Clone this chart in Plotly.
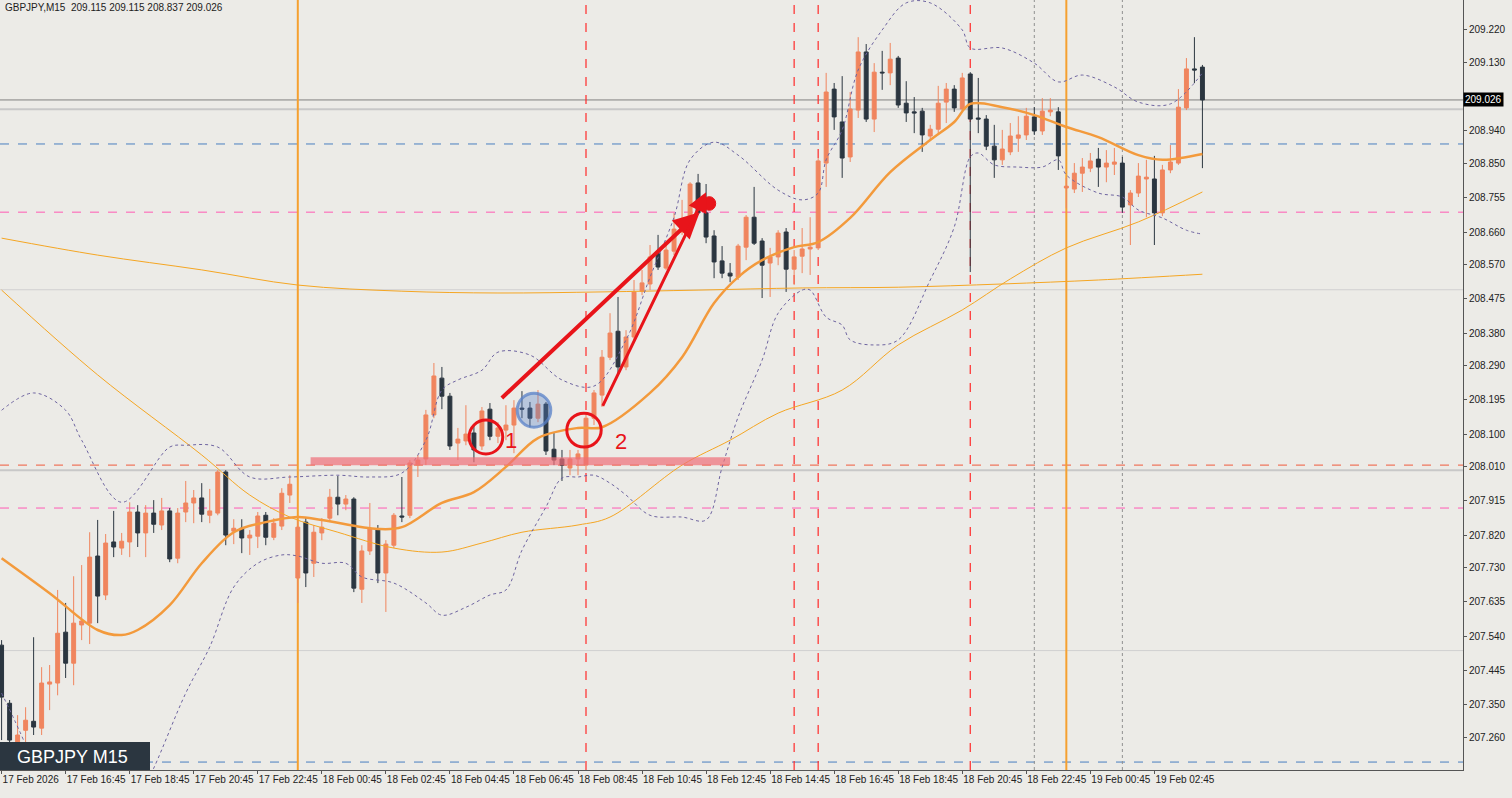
import plotly.graph_objects as go

# ---------- candle data (bar index 0 = 17 Feb 14:45, M15) ----------
opens = [207.515,207.354,207.246,207.279,207.304,207.285,207.407,207.410,207.551,207.465,
207.571,207.576,207.762,207.654,207.801,207.784,207.801,207.884,207.826,207.881,
207.848,207.887,207.756,207.884,207.909,207.923,207.875,207.881,207.995,207.831,
207.839,207.812,207.817,207.875,207.814,207.845,207.931,207.701,207.856,207.742,
207.826,207.867,207.925,207.906,207.920,207.670,207.776,207.837,207.715,207.792,
207.873,207.875,208.014,208.031,208.153,208.255,208.205,208.075,208.081,208.103,
208.067,208.169,208.094,208.111,208.125,208.172,208.172,208.144,208.183,208.058,
208.031,208.006,208.031,208.014,208.144,208.208,208.313,208.385,208.286,208.369,
208.496,208.516,208.602,208.560,208.607,208.660,208.665,208.796,208.713,208.649,
208.580,208.546,208.535,208.618,208.701,208.635,208.574,208.591,208.660,208.557,
208.593,208.613,208.616,208.851,209.056,208.965,208.868,208.998,209.159,208.973,
209.103,209.101,209.142,209.017,208.993,208.995,208.926,208.945,209.020,209.056,
209.001,209.098,208.976,208.973,208.898,208.860,208.882,208.920,208.929,208.979,
208.940,208.993,208.993,208.782,208.779,208.823,208.837,208.862,208.840,208.848,
208.851,208.735,208.768,208.807,208.807,208.713,208.832,208.851,209.004,209.112,
209.117]
highs = [207.529,207.363,207.321,207.343,207.537,207.454,207.460,207.668,207.632,207.706,
207.737,207.828,207.862,207.823,207.887,207.826,207.911,207.903,207.903,207.917,
207.923,207.895,207.895,207.970,207.945,207.964,207.948,208.000,208.000,207.864,
207.864,207.834,207.884,207.884,207.867,207.950,207.986,207.862,207.867,207.848,
207.867,207.948,207.984,207.931,207.925,207.792,207.909,207.848,207.806,207.881,
207.981,208.028,208.042,208.167,208.297,208.286,208.214,208.117,208.180,208.125,
208.175,208.186,208.133,208.180,208.194,208.219,208.189,208.222,208.189,208.103,
208.056,208.056,208.056,208.153,208.222,208.333,208.435,208.480,208.388,208.527,
208.555,208.624,208.652,208.624,208.713,208.749,208.798,208.821,208.793,208.665,
208.621,208.574,208.627,208.707,208.785,208.643,208.616,208.665,208.671,208.610,
208.671,208.701,208.865,209.101,209.073,209.092,209.048,209.200,209.181,209.128,
209.162,209.184,209.148,209.078,209.034,209.004,208.957,209.065,209.073,209.067,
209.101,209.103,209.087,208.984,208.957,208.943,208.962,208.981,209.004,209.006,
209.031,209.031,209.006,208.810,208.851,208.865,208.879,208.893,208.887,208.893,
208.868,208.776,208.851,208.860,208.871,208.846,208.901,209.056,209.142,209.200,
209.123]
lows = [207.252,207.196,207.196,207.238,207.266,207.266,207.335,207.376,207.424,207.404,
207.529,207.518,207.576,207.640,207.759,207.765,207.759,207.787,207.759,207.826,
207.834,207.745,207.742,207.856,207.853,207.856,207.853,207.875,207.792,207.795,
207.770,207.765,207.784,207.792,207.806,207.834,207.909,207.632,207.676,207.704,
207.806,207.856,207.875,207.889,207.662,207.632,207.765,207.687,207.607,207.784,
207.856,207.867,207.981,208.014,208.144,208.169,208.056,208.028,208.069,208.022,
208.056,208.083,208.075,208.083,208.047,208.144,208.119,208.133,208.042,208.014,
207.970,207.986,207.986,208.000,208.125,208.175,208.305,208.269,208.277,208.361,
208.485,208.499,208.555,208.555,208.596,208.652,208.660,208.707,208.629,208.532,
208.532,208.521,208.527,208.582,208.624,208.477,208.480,208.568,208.494,208.513,
208.546,208.541,208.610,208.785,208.943,208.810,208.854,208.976,208.965,208.937,
209.054,209.067,209.004,208.965,208.934,208.882,208.915,208.934,208.962,208.993,
208.993,208.549,208.934,208.887,208.810,208.846,208.873,208.882,208.915,208.929,
208.929,208.981,208.832,208.726,208.768,208.771,208.826,208.785,208.798,208.818,
208.713,208.624,208.757,208.701,208.624,208.704,208.823,208.846,208.998,209.073,
208.837]
closes = [207.371,207.252,207.266,207.307,207.288,207.410,207.413,207.548,207.465,207.576,
207.582,207.759,207.651,207.798,207.787,207.803,207.884,207.826,207.881,207.850,
207.887,207.754,207.881,207.909,207.923,207.878,207.887,207.995,207.820,207.839,
207.812,207.820,207.873,207.814,207.853,207.936,207.961,207.842,207.715,207.828,
207.842,207.925,207.906,207.920,207.673,207.776,207.837,207.715,207.795,207.875,
207.870,208.020,208.028,208.153,208.261,208.205,208.067,208.086,208.100,208.056,
208.164,208.094,208.117,208.125,208.172,208.169,208.144,208.183,208.053,208.028,
208.014,208.031,208.045,208.144,208.214,208.313,208.380,208.286,208.369,208.494,
208.519,208.591,208.563,208.610,208.668,208.685,208.793,208.713,208.646,208.577,
208.546,208.538,208.621,208.701,208.629,208.568,208.591,208.657,208.557,208.591,
208.613,208.618,208.857,209.048,208.979,208.865,209.001,209.159,208.973,209.103,
209.101,209.139,209.012,208.990,208.990,208.929,208.945,209.017,209.056,209.004,
209.087,208.973,208.973,208.898,208.860,208.890,208.926,208.929,208.981,208.940,
208.995,208.998,208.871,208.787,208.823,208.840,208.857,208.840,208.851,208.854,
208.729,208.768,208.815,208.812,208.713,208.832,208.854,209.006,209.112,209.109,
209.026]

# ---------- indicators (bar index, price) ----------
ma20_idx = [0,6,12,15,17,21,25,29,33,37,40,47,50,55,59,63,67,72,75,81,85,89,92,95,99,102,106,111,116,119,121,125,129,133,137,142,145,150]
ma20_val = [207.756,207.659,207.557,207.543,207.557,207.626,207.742,207.828,207.856,207.870,207.862,207.837,207.842,207.909,207.939,208.009,208.089,208.117,208.119,208.214,208.313,208.463,208.535,208.582,208.618,208.632,208.699,208.826,208.915,208.965,209.015,209.006,208.984,208.951,208.923,208.873,208.860,208.876]
ma100_idx = [0,12,25,31,36,42,49,55,60,65,72,76,85,91,97,105,112,120,126,133,142,150]
ma100_val = [208.499,208.264,208.042,207.931,207.870,207.828,207.784,207.773,207.798,207.828,207.848,207.870,208.014,208.083,208.158,208.222,208.347,208.444,208.530,208.616,208.688,208.771]
ma200_idx = [0,12,25,37,50,62,75,87,100,112,125,137,150]
ma200_val = [208.643,208.596,208.555,208.513,208.496,208.491,208.494,208.499,208.505,208.507,208.516,208.527,208.543]
bbu_idx = [0,4,8,10,15,21,23,27,31,36,42,46,50,53,55,57,60,62,66,70,74,78,81,84,86,89,92,97,100,102,103,105,107,110,113,116,120,121,125,129,132,135,139,142,146,150]
bbu_val = [208.166,208.214,208.166,208.083,207.911,208.064,208.069,208.064,207.981,207.981,207.986,207.981,207.992,208.083,208.222,208.250,208.277,208.327,208.319,208.250,208.233,208.361,208.535,208.701,208.860,208.909,208.873,208.776,208.749,208.768,208.860,208.943,209.109,209.220,209.295,209.295,209.220,209.170,209.170,209.128,209.076,209.095,209.062,209.020,209.015,209.101]
bbl_idx = [0,3,5,10,17,19,23,26,29,32,35,37,40,43,45,49,53,55,58,61,63,65,68,70,72,74,76,78,81,85,88,90,92,95,97,100,101,103,105,106,109,112,116,119,121,122,124,127,130,132,133,137,140,142,145,148,150]
bbl_val = [207.382,207.238,207.113,207.085,207.085,207.174,207.382,207.510,207.676,207.742,207.765,207.762,207.742,207.742,207.704,207.687,207.632,207.598,207.620,207.654,207.668,207.778,207.898,207.978,207.981,207.986,207.964,207.931,207.875,207.870,207.862,208.008,208.147,208.305,208.435,208.499,208.499,208.424,208.402,208.361,208.347,208.361,208.527,208.674,208.868,208.879,208.846,208.840,208.840,208.860,208.818,208.768,208.757,208.721,208.699,208.665,208.654]

# ---------- axes text ----------
price_ticks = [209.220,209.130,208.940,208.850,208.755,208.660,208.570,208.475,208.380,208.290,208.195,208.100,208.010,207.915,207.820,207.730,207.635,207.540,207.445,207.350,207.260,207.165]
time_idx = [0,8,16,24,32,40,48,56,64,72,80,88,96,104,112,120,128,136,144]
time_labels = ["17 Feb 2026","17 Feb 16:45","17 Feb 18:45","17 Feb 20:45","17 Feb 22:45","18 Feb 00:45","18 Feb 02:45","18 Feb 04:45","18 Feb 06:45","18 Feb 08:45","18 Feb 10:45","18 Feb 12:45","18 Feb 14:45","18 Feb 16:45","18 Feb 18:45","18 Feb 20:45","18 Feb 22:45","19 Feb 00:45","19 Feb 02:45"]
current_price = 209.026
hlines = [(209.00,"#c8c8c8","solid",2),(208.50,"#d0d0d0","solid",1),(208.00,"#c8c8c8","solid",2),(207.50,"#d0d0d0","solid",1),
          (208.904,"#4a7fc0","dash",1),(208.715,"#ff5ab4","dash",1),(208.014,"#f05a3c","dash",1),(207.895,"#ff5ab4","dash",1),(207.191,"#4a7fc0","dash",1),
          (current_price,"#808080","solid",1)]
orange_vlines = [37,133]
red_vlines = [73,99,102,121]
grey_vlines = [129,140]

bars = list(range(len(closes)))
fig = go.Figure()
font = "Liberation Sans"
fig.add_trace(go.Scatter(x=ma200_idx, y=ma200_val, mode="lines", line=dict(color="#f5a623", width=1, shape="spline"), hoverinfo="skip"))
fig.add_trace(go.Scatter(x=ma100_idx, y=ma100_val, mode="lines", line=dict(color="#f5a623", width=1, shape="spline"), hoverinfo="skip"))
fig.add_trace(go.Scatter(x=bbu_idx, y=bbu_val, mode="lines", line=dict(color="#6e64a0", width=1, dash="dot", shape="spline"), hoverinfo="skip"))
fig.add_trace(go.Scatter(x=bbl_idx, y=bbl_val, mode="lines", line=dict(color="#6e64a0", width=1, dash="dot", shape="spline"), hoverinfo="skip"))
fig.add_trace(go.Scatter(x=ma20_idx, y=ma20_val, mode="lines", line=dict(color="#f39a3c", width=2.5, shape="spline"), hoverinfo="skip"))
fig.add_trace(go.Candlestick(x=bars, open=opens, high=highs, low=lows, close=closes,
    increasing=dict(line=dict(color="#f0855e", width=1), fillcolor="#f0855e"),
    decreasing=dict(line=dict(color="#2b3640", width=1), fillcolor="#2b3640"),
    whiskerwidth=0))

shapes = []
for v, c, d, w in hlines:
    shapes.append(dict(type="line", xref="paper", x0=0, x1=1, y0=v, y1=v, line=dict(color=c, dash=d, width=w), layer="below"))
for v in orange_vlines:
    shapes.append(dict(type="line", yref="paper", y0=0, y1=1, x0=v, x1=v, line=dict(color="#f5a030", width=2), layer="below"))
for v in red_vlines:
    shapes.append(dict(type="line", yref="paper", y0=0, y1=1, x0=v, x1=v, line=dict(color="#ff2a2a", width=1.2, dash="dash"), layer="below"))
for v in grey_vlines:
    shapes.append(dict(type="line", yref="paper", y0=0, y1=1, x0=v, x1=v, line=dict(color="#909090", width=1, dash="dot"), layer="below"))
# hand drawn marks
shapes.append(dict(type="line", x0=38.6, x1=91, y0=208.025, y1=208.025, line=dict(color="rgba(240,110,120,0.7)", width=8)))
shapes.append(dict(type="circle", x0=58.4, x1=62.6, y0=208.045, y1=208.139, line=dict(color="#e8141a", width=3)))
shapes.append(dict(type="circle", x0=70.6, x1=74.9, y0=208.064, y1=208.158, line=dict(color="#e8141a", width=3)))
shapes.append(dict(type="circle", x0=64.4, x1=68.6, y0=208.119, y1=208.213, line=dict(color="rgba(90,130,200,0.75)", width=3), fillcolor="rgba(90,130,200,0.35)"))
shapes.append(dict(type="circle", x0=87.6, x1=89.2, y0=208.720, y1=208.758, line=dict(color="#e8141a", width=1), fillcolor="#e8141a"))
shapes.append(dict(type="rect", xref="paper", yref="paper", x0=0, x1=150/1463, y0=0, y1=28/770, fillcolor="#2b3640", line=dict(width=0)))

ann = [
    dict(x=87.2, y=208.715, ax=62.3, ay=208.196, xref="x", yref="y", axref="x", ayref="y", showarrow=True, arrowhead=2, arrowsize=1.3, arrowwidth=4, arrowcolor="#e8141a", text=""),
    dict(x=88.0, y=208.770, ax=75.0, ay=208.174, xref="x", yref="y", axref="x", ayref="y", showarrow=True, arrowhead=2, arrowsize=1.3, arrowwidth=3, arrowcolor="#e8141a", text=""),
    dict(x=63.6, y=208.083, text="1", showarrow=False, font=dict(family=font, size=22, color="#e8141a")),
    dict(x=77.4, y=208.080, text="2", showarrow=False, font=dict(family=font, size=22, color="#e8141a")),
    dict(xref="paper", yref="paper", x=0.002, y=1, xanchor="left", yanchor="top", showarrow=False,
         text="GBPJPY,M15  209.115 209.115 208.837 209.026", font=dict(family=font, size=10, color="#222")),
    dict(xref="paper", yref="paper", x=0.01, y=0.017, xanchor="left", yanchor="middle", showarrow=False,
         text="GBPJPY M15", font=dict(family=font, size=18, color="#ffffff")),
    dict(xref="paper", x=1, y=current_price, xanchor="left", showarrow=False, text="209.026",
         bgcolor="#000000", font=dict(family=font, size=10, color="#ffffff"), borderpad=1),
]

fig.update_layout(
    width=1512, height=798, margin=dict(l=0, r=49, t=0, b=28, autoexpand=False),
    paper_bgcolor="#ecebe7", plot_bgcolor="#ecebe7", showlegend=False,
    shapes=shapes, annotations=ann,
    xaxis=dict(range=[-0.2, 182.55], rangeslider=dict(visible=False), showgrid=False, zeroline=False,
               tickvals=time_idx, ticktext=time_labels, ticklabelposition="outside right", tickangle=0,
               automargin=False, ticks="outside", ticklen=3, tickcolor="#555", showline=True, linecolor="#555",
               tickfont=dict(family=font, size=10, color="#222")),
    yaxis=dict(range=[207.169, 209.303], side="right", showgrid=False, zeroline=False, automargin=False,
               tickvals=price_ticks, ticktext=[f"{v:.3f}" for v in price_ticks],
               ticks="outside", ticklen=3, tickcolor="#555", showline=True, linecolor="#555",
               tickfont=dict(family=font, size=10, color="#222")),
)
fig.write_html("out.html", config={"displayModeBar": False},
               post_script="document.body.style.margin='0';document.body.style.overflow='hidden';")
